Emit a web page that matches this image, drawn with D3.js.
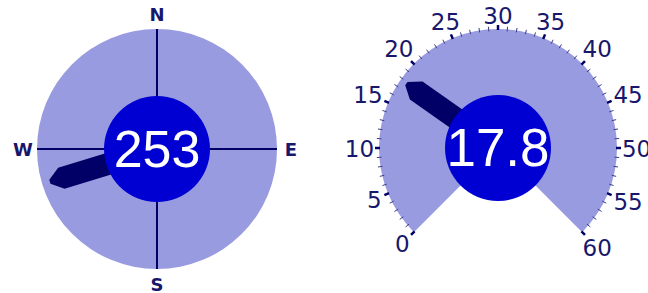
<!DOCTYPE html>
<meta charset="utf-8">
<head>
  <title>Wind gauges</title>
</head>

<style>
body {
  margin: 0;
  background: #fff;
}
svg {
  display: block;
}
</style>

<body>
  <div id="content">
    <svg width="648" height="293"></svg>
  </div>

  <script src="https://cdn.jsdelivr.net/npm/d3@7/dist/d3.min.js"></script>

  <script>
// data
var compassLabels = ['N', 'E', 'S', 'W'];
var compassBearings = [0, 90, 180, 270];
var windDirection = 253;

var speedDomain = [0, 60];
var speedMajorTicks = [0, 5, 10, 15, 20, 25, 30, 35, 40, 45, 50, 55, 60];
var speedMinorStep = 1;
var windSpeed = 17.8;

// look
var fillOuter = '#999be0';
var fillInner = '#0000d2';
var navy = '#000066';
var labelColor = '#17176c';

var svg = d3.select('#content svg');
var rad = Math.PI / 180;

function polar(deg, r) {
  return [Math.sin(deg * rad) * r, -Math.cos(deg * rad) * r];
}

// needle pointing up, rotated by bearing
function needle(g, bearing) {
  var pts = [[-11, 0], [-11, -100], [-2, -112], [2, -112], [11, -100], [11, 0]];
  g.append('path')
    .attr('d', d3.line()(pts) + 'Z')
    .attr('fill', navy)
    .attr('transform', 'rotate(' + bearing + ')');
}

// ---- compass ----
var compass = svg.append('g').attr('transform', 'translate(157,149)');
var compassScale = d3.scaleLinear().domain([0, 360]).range([0, 360]);
var cr = 120;

compass.append('circle').attr('r', cr).attr('fill', fillOuter);

compass.selectAll('line.axis')
  .data(compassBearings)
  .join('line')
  .attr('class', 'axis')
  .attr('x1', 0).attr('y1', 0)
  .attr('x2', function(d) { return polar(compassScale(d), cr)[0]; })
  .attr('y2', function(d) { return polar(compassScale(d), cr)[1]; })
  .attr('stroke', navy)
  .attr('stroke-width', 2);

compass.selectAll('text.card')
  .data(compassBearings)
  .join('text')
  .attr('class', 'card')
  .attr('x', function(d) { return polar(compassScale(d), 134)[0]; })
  .attr('y', function(d) { return polar(compassScale(d), 135)[1] + 6.5; })
  .attr('text-anchor', 'middle')
  .attr('font-family', 'DejaVu Sans')
  .attr('font-weight', 'bold')
  .attr('font-size', 18)
  .attr('fill', labelColor)
  .text(function(d, i) { return compassLabels[i]; });

needle(compass, compassScale(windDirection));

compass.append('circle').attr('r', 53).attr('fill', fillInner);
compass.append('text')
  .attr('y', 18)
  .attr('text-anchor', 'middle')
  .attr('font-family', 'Liberation Sans')
  .attr('font-size', 52)
  .attr('fill', '#fff')
  .text(windDirection);

// ---- speed gauge ----
var gauge = svg.append('g').attr('transform', 'translate(498,148)');
var speedScale = d3.scaleLinear().domain(speedDomain).range([-135, 135]);
var gr = 119;

gauge.append('path')
  .attr('d', d3.arc()({
    innerRadius: 0,
    outerRadius: gr,
    startAngle: speedScale(speedDomain[0]) * rad,
    endAngle: speedScale(speedDomain[1]) * rad
  }))
  .attr('fill', fillOuter);

var minor = d3.range(speedDomain[0], speedDomain[1] + speedMinorStep, speedMinorStep)
  .filter(function(v) { return speedMajorTicks.indexOf(v) < 0; });

gauge.selectAll('line.minor')
  .data(minor)
  .join('line')
  .attr('class', 'minor')
  .attr('x1', function(d) { return polar(speedScale(d), gr - 2)[0]; })
  .attr('y1', function(d) { return polar(speedScale(d), gr - 2)[1]; })
  .attr('x2', function(d) { return polar(speedScale(d), gr + 2.5)[0]; })
  .attr('y2', function(d) { return polar(speedScale(d), gr + 2.5)[1]; })
  .attr('stroke', '#3b3b85')
  .attr('stroke-width', 1);

gauge.selectAll('line.major')
  .data(speedMajorTicks)
  .join('line')
  .attr('class', 'major')
  .attr('x1', function(d) { return polar(speedScale(d), gr - 1)[0]; })
  .attr('y1', function(d) { return polar(speedScale(d), gr - 1)[1]; })
  .attr('x2', function(d) { return polar(speedScale(d), gr + 4)[0]; })
  .attr('y2', function(d) { return polar(speedScale(d), gr + 4)[1]; })
  .attr('stroke', navy)
  .attr('stroke-width', 2.5);

// labels sit just outside the ring, pushed out by half their box
gauge.selectAll('text.tick')
  .data(speedMajorTicks)
  .join('text')
  .attr('class', 'tick')
  .attr('font-family', 'DejaVu Sans')
  .attr('font-size', 23)
  .attr('fill', labelColor)
  .attr('text-anchor', 'middle')
  .text(function(d) { return d; })
  .each(function(d) {
    var a = speedScale(d);
    var hw = String(d).length * 7.3, hh = 8.5;
    var u = polar(a, 1);
    var r = 124 + Math.abs(u[0]) * hw + Math.abs(u[1]) * hh;
    var p = polar(a, r);
    d3.select(this).attr('x', p[0]).attr('y', p[1] + 8.5);
  });

needle(gauge, speedScale(windSpeed));

gauge.append('circle').attr('r', 53).attr('fill', fillInner);
gauge.append('text')
  .attr('y', 18)
  .attr('text-anchor', 'middle')
  .attr('font-family', 'Liberation Sans')
  .attr('font-size', 53)
  .attr('fill', '#fff')
  .text(windSpeed);
  </script>
</body>
</html>
